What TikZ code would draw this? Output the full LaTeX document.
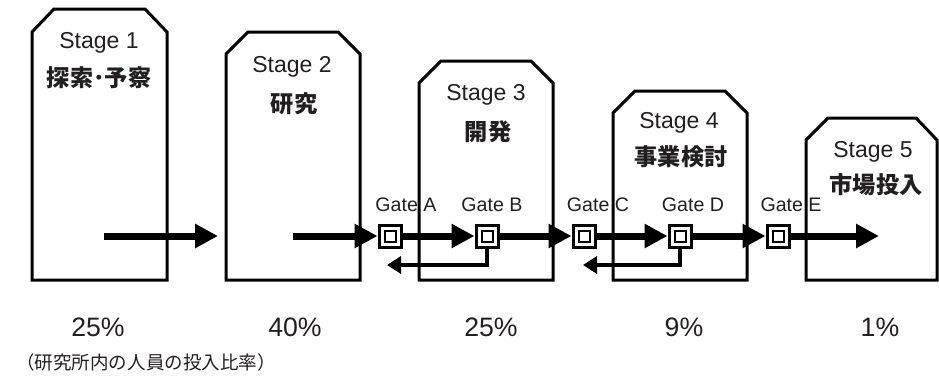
\documentclass[tikz,border=0pt]{standalone}
\usepackage{fontspec}
\setmainfont{Liberation Sans}
\newfontfamily\jp{Noto Sans CJK JP}
\usetikzlibrary{arrows.meta}
\definecolor{ink}{HTML}{231F20}
\tikzset{
  stagebox/.style={draw=black, line width=2.25pt, fill=white, line join=miter},
  stagetxt/.style={inner sep=0pt, text=ink, font=\fontsize{17.25pt}{20pt}\selectfont},
  stagejp/.style={inner sep=0pt, text=ink, font=\jp\bfseries\fontsize{17.4pt}{20pt}\selectfont},
  gatetxt/.style={inner sep=0pt, text=ink, font=\fontsize{14.7pt}{17pt}\selectfont},
  pcttxt/.style={inner sep=0pt, text=ink, font=\fontsize{20pt}{24pt}\selectfont},
  notetxt/.style={inner sep=0pt, text=ink, font=\jp\fontsize{13.9pt}{16pt}\selectfont},
  gatebox/.style={draw=black, line width=2.25pt, fill=white, minimum size=16.5pt, inner sep=0pt},
  gateinner/.style={draw=black, line width=1.5pt, minimum size=8.25pt, inner sep=0pt},
  flow/.style={line width=5.25pt, -{Triangle[length=17.25pt,width=17.25pt]}},
  back/.style={line width=2.6pt, -{Triangle[length=10.5pt,width=12.75pt]}},
}
\begin{document}
\begin{tikzpicture}[x=0.75pt,y=-0.75pt]
\useasboundingbox (0,0) rectangle (939,376);
% stage boxes
\draw[stagebox] (32,280) -- (32,32) -- (54,9) -- (145,9) -- (167,32) -- (167,280) -- cycle;
\draw[stagebox] (226,280) -- (226,54) -- (248,32) -- (338,32) -- (360,54) -- (360,280) -- cycle;
\draw[stagebox] (419,280) -- (419,83) -- (441,61) -- (531,61) -- (553,83) -- (553,280) -- cycle;
\draw[stagebox] (613,280) -- (613,113) -- (635,91) -- (725,91) -- (747,113) -- (747,280) -- cycle;
\draw[stagebox] (806,280) -- (806,140) -- (828,118) -- (916,118) -- (937,140) -- (937,280) -- cycle;
% stage labels
\node[stagetxt] (s1) at (99,43) {Stage 1};
\node[stagejp] (j1) at (99,78) {探索･予察};
\node[stagetxt] (s2) at (292,67) {Stage 2};
\node[stagejp] (j2) at (294,104) {研究};
\node[stagetxt] (s3) at (486,95) {Stage 3};
\node[stagejp] (j3) at (488,132) {開発};
\node[stagetxt] (s4) at (679,123) {Stage 4};
\node[stagejp] (j4) at (681,157) {事業検討};
\node[stagetxt] (s5) at (873,152) {Stage 5};
\node[stagejp] (j5) at (876,185) {市場投入};
% gate labels
\node[gatetxt] (lA) at (406,205) {Gate A};
\node[gatetxt] (lB) at (492,205) {Gate B};
\node[gatetxt] (lC) at (598,205) {Gate C};
\node[gatetxt] (lD) at (693,205) {Gate D};
\node[gatetxt] (lE) at (791,205) {Gate E};
% gates
\node[gatebox] (gA) at (390,236) {};
\node[gatebox] (gB) at (487,236) {};
\node[gatebox] (gC) at (584,236) {};
\node[gatebox] (gD) at (680,236) {};
\node[gatebox] (gE) at (778,236) {};
\node[gateinner] (gAi) at (gA) {};
\node[gateinner] (gBi) at (gB) {};
\node[gateinner] (gCi) at (gC) {};
\node[gateinner] (gDi) at (gD) {};
\node[gateinner] (gEi) at (gE) {};
% free ends
\coordinate (f1s) at (104,236);
\coordinate (f1e) at (218,236);
\coordinate (f2s) at (293,236);
\coordinate (f7e) at (879,236);
\coordinate (rB) at (387,265);
\coordinate (rD) at (583,265);
% flow arrows
\draw[flow] (f1s) -- (f1e);
\draw[flow] (f2s) -- (gA.west);
\draw[flow] (gA.east) -- (gB.west);
\draw[flow] (gB.east) -- (gC.west);
\draw[flow] (gC.east) -- (gD.west);
\draw[flow] (gD.east) -- (gE.west);
\draw[flow] (gE.east) -- (f7e);
% return arrows
\draw[back] (gB.south) |- (rB);
\draw[back] (gD.south) |- (rD);
% percentages
\node[pcttxt] (p1) at (98,327) {25\%};
\node[pcttxt] (p2) at (295,327) {40\%};
\node[pcttxt] (p3) at (491,327) {25\%};
\node[pcttxt] (p4) at (684,327) {9\%};
\node[pcttxt] (p5) at (880,327) {1\%};
\node[notetxt] (note) at (146,362) {（研究所内の人員の投入比率）};
\end{tikzpicture}
\end{document}
